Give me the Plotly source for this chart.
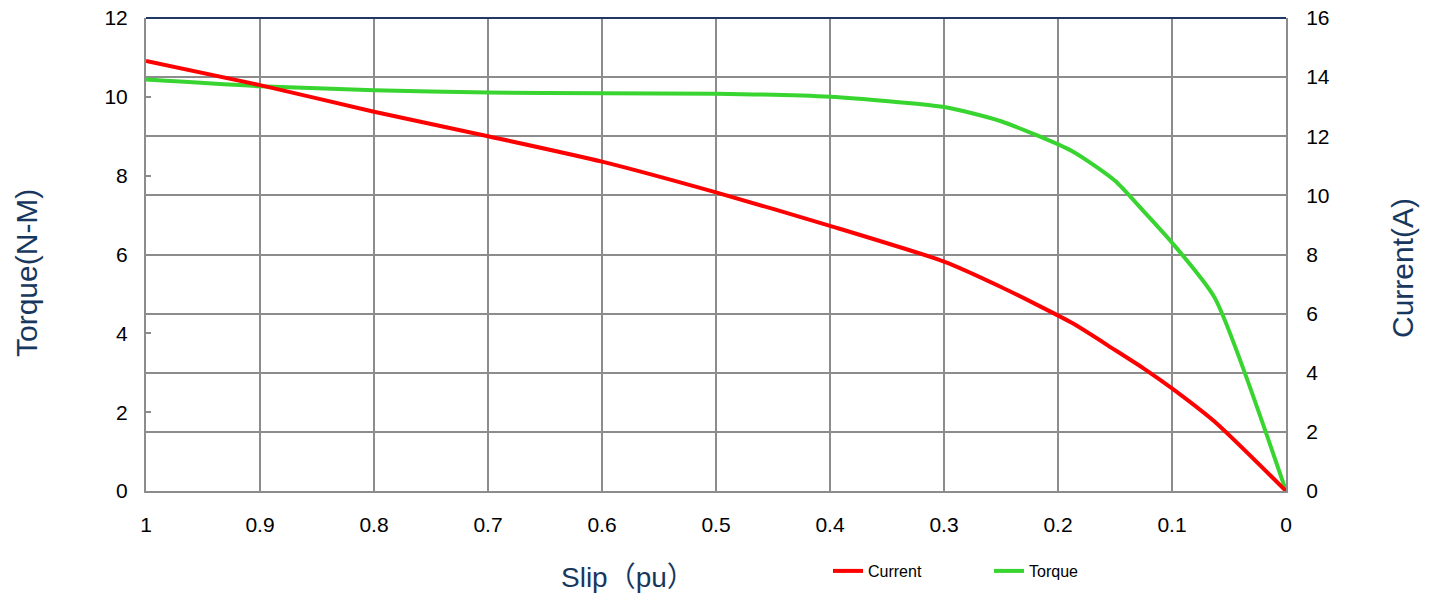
import plotly.graph_objects as go

slip = [1, 0.9, 0.8, 0.7, 0.6, 0.5, 0.4, 0.3, 0.25, 0.1875, 0.15, 0.125, 0.1, 0.0625, 0]
current = [14.55, 13.73, 12.83, 12.0, 11.14, 10.1, 8.97, 7.76, 6.9, 5.68, 4.77, 4.15, 3.47, 2.34, 0]
torque = [10.44, 10.27, 10.17, 10.11, 10.09, 10.08, 10.0, 9.74, 9.38, 8.62, 7.87, 7.1, 6.3, 4.9, 0]

x_ticks = [1, 0.9, 0.8, 0.7, 0.6, 0.5, 0.4, 0.3, 0.2, 0.1, 0]
x_tick_text = ["1", "0.9", "0.8", "0.7", "0.6", "0.5", "0.4", "0.3", "0.2", "0.1", "0"]

RED = "#FF0000"
GREEN = "#38D430"
NAVY = "#17375E"
GRID = "#8C8C8C"
FONT = "Liberation Sans, Arial, sans-serif"
TITLE_FONT = "Liberation Sans, Arial, Noto Sans CJK SC, sans-serif"

fig = go.Figure()
fig.add_trace(go.Scatter(x=slip, y=current, name="Current", mode="lines",
                         line=dict(color=RED, width=4, shape="spline", smoothing=0.6),
                         yaxis="y2"))
fig.add_trace(go.Scatter(x=slip, y=torque, name="Torque", mode="lines",
                         line=dict(color=GREEN, width=4, shape="spline", smoothing=0.6),
                         yaxis="y"))

W, H = 1433, 596
L, T, PW, PH = 146, 18, 1140, 473

def px(xp):
    return (xp - L) / PW

def py(yp):
    return 1 - (yp - T) / PH

fig.update_layout(
    width=W, height=H,
    margin=dict(l=L, r=W - L - PW, t=T, b=H - T - PH, autoexpand=False),
    paper_bgcolor="white", plot_bgcolor="white",
    font=dict(family=FONT, size=21, color="black"),
    showlegend=True,
    legend=dict(orientation="h", x=px(828), y=py(571),
                xanchor="left", yanchor="middle",
                font=dict(size=16, color="black"), bgcolor="rgba(0,0,0,0)",
                entrywidth=116, entrywidthmode="pixels", traceorder="normal"),
    xaxis=dict(range=[1, 0], tickvals=x_ticks, ticktext=x_tick_text,
               showgrid=True, gridcolor=GRID, gridwidth=1.5,
               showline=True, linecolor=GRID, linewidth=2, automargin=False,
               ticks="", ticklabelstandoff=14, zeroline=False,
               ticklabeloverflow="allow", tickfont=dict(size=21)),
    yaxis=dict(range=[0, 12], dtick=2, showgrid=False, zeroline=False,
               showline=True, linecolor=GRID, linewidth=2, automargin=False,
               ticks="inside", ticklen=5, tickcolor=GRID, tickwidth=1.5,
               ticklabelstandoff=12, ticklabeloverflow="allow", tickfont=dict(size=21)),
    yaxis2=dict(range=[0, 16], dtick=2, overlaying="y", side="right",
                showgrid=True, gridcolor=GRID, gridwidth=1.5, zeroline=False,
                showline=True, linecolor=GRID, linewidth=2, automargin=False,
                ticks="", ticklabelstandoff=14, ticklabeloverflow="allow",
                tickfont=dict(size=21)),
    annotations=[
        dict(text="Torque(N-M)", xref="paper", yref="paper",
             x=px(26), y=py(273),
             textangle=-90, showarrow=False,
             font=dict(size=30, color=NAVY, family=TITLE_FONT),
             xanchor="center", yanchor="middle"),
        dict(text="Current(A)", xref="paper", yref="paper",
             x=px(1402), y=py(268),
             textangle=-90, showarrow=False,
             font=dict(size=30, color=NAVY, family=TITLE_FONT),
             xanchor="center", yanchor="middle"),
        dict(text="Slip（pu）", xref="paper", yref="paper",
             x=px(628), y=py(577),
             showarrow=False, font=dict(size=28, color=NAVY, family=TITLE_FONT),
             xanchor="center", yanchor="middle"),
    ],
    shapes=[dict(type="line", xref="paper", yref="paper", x0=0, x1=1, y0=1, y1=1,
                 line=dict(color="#1F3864", width=2))],
)

fig.write_html("out.html",
               config={"displayModeBar": False},
               post_script="document.body.style.margin='0';document.body.style.padding='0';")
